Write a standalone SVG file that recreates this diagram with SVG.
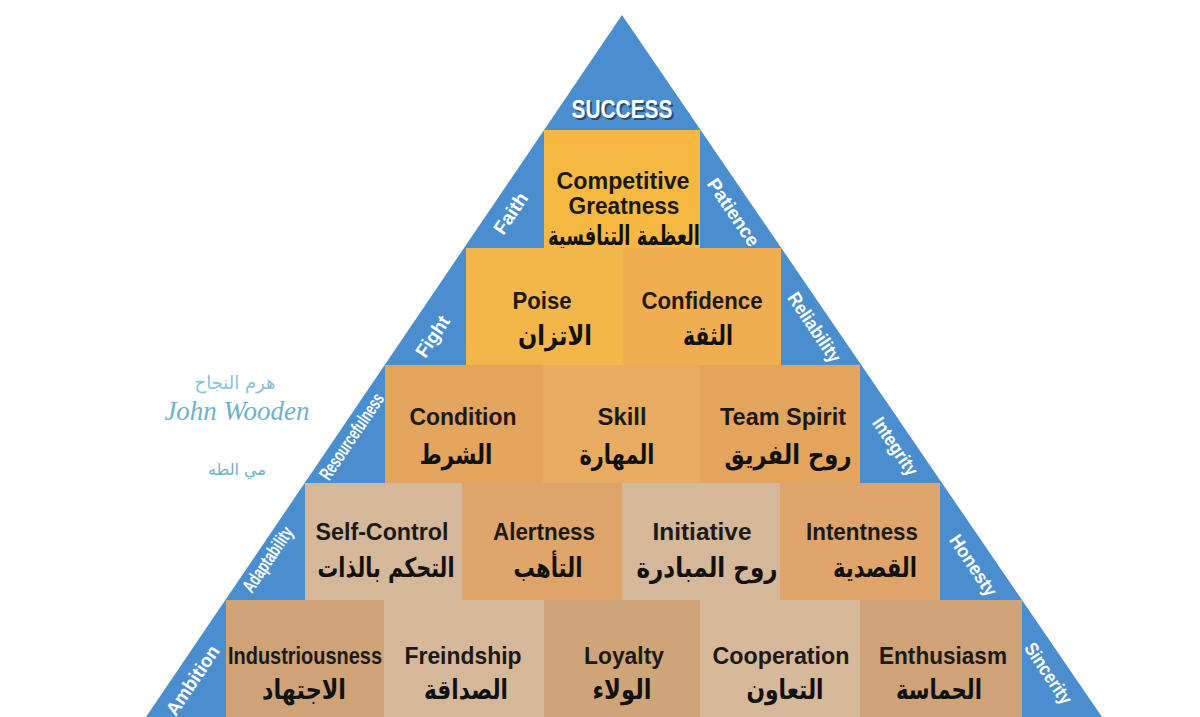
<svg xmlns="http://www.w3.org/2000/svg" width="1200" height="717" viewBox="0 0 1200 717">
<style>
.en{font-family:"Liberation Sans",sans-serif;font-weight:bold;font-size:24px;fill:#1c1a17;text-anchor:middle}
.ar{font-family:"DejaVu Sans",sans-serif;font-weight:bold;font-size:27px;fill:#111;text-anchor:middle}
.side{font-family:"Liberation Sans",sans-serif;font-weight:bold;font-size:19px;fill:#fff;text-anchor:middle}
</style>
<rect width="1200" height="717" fill="#fff"/>
<polygon points="622,15 1102,717 146,717" fill="#4A8ECF"/>
<g id="success">
<text x="624" y="120" text-anchor="middle" font-family="Liberation Sans,sans-serif" font-weight="bold" font-size="25" fill="#2a4a70" textLength="101" lengthAdjust="spacingAndGlyphs">SUCCESS</text>
<text x="622" y="118" text-anchor="middle" font-family="Liberation Sans,sans-serif" font-weight="bold" font-size="25" fill="#fff" textLength="101" lengthAdjust="spacingAndGlyphs">SUCCESS</text>
</g>
<g id="competitive"><rect x="544" y="130" width="156" height="118" fill="#F5B942"/>
<text class="en" x="623" y="189" font-size="22" textLength="133" lengthAdjust="spacingAndGlyphs">Competitive</text><text class="en" x="624" y="214" font-size="22" textLength="111" lengthAdjust="spacingAndGlyphs">Greatness</text>
<text class="ar" x="624" y="245" font-size="22" textLength="152" lengthAdjust="spacingAndGlyphs">العظمة التنافسية</text></g>
<g id="poise"><rect x="466" y="248" width="156" height="117" fill="#F2B64B"/>
<text class="en" x="542" y="309" textLength="59" lengthAdjust="spacingAndGlyphs">Poise</text><text class="ar" x="555" y="345" font-size="28" textLength="74" lengthAdjust="spacingAndGlyphs">الاتزان</text></g>
<g id="confidence"><rect x="622" y="248" width="159" height="117" fill="#F0AE50"/>
<text class="en" x="702" y="309" textLength="121" lengthAdjust="spacingAndGlyphs">Confidence</text><text class="ar" x="708" y="345" font-size="28" textLength="50" lengthAdjust="spacingAndGlyphs">الثقة</text></g>
<g id="condition"><rect x="385" y="365" width="158" height="118" fill="#E3A45E"/>
<text class="en" x="463" y="425" textLength="107" lengthAdjust="spacingAndGlyphs">Condition</text><text class="ar" x="456" y="464" font-size="28" textLength="73" lengthAdjust="spacingAndGlyphs">الشرط</text></g>
<g id="skill"><rect x="543" y="365" width="157" height="118" fill="#E7AC62"/>
<text class="en" x="622" y="425" textLength="49" lengthAdjust="spacingAndGlyphs">Skill</text><text class="ar" x="617" y="464" font-size="28" textLength="75" lengthAdjust="spacingAndGlyphs">المهارة</text></g>
<g id="teamspirit"><rect x="700" y="365" width="160" height="118" fill="#E3A55E"/>
<text class="en" x="783" y="425" textLength="126" lengthAdjust="spacingAndGlyphs">Team Spirit</text><text class="ar" x="788" y="464" font-size="28" textLength="127" lengthAdjust="spacingAndGlyphs">روح الفريق</text></g>
<g id="selfcontrol"><rect x="305" y="483" width="157" height="117" fill="#D5B89A"/>
<text class="en" x="382" y="540" textLength="133" lengthAdjust="spacingAndGlyphs">Self-Control</text><text class="ar" x="386" y="577" textLength="137" lengthAdjust="spacingAndGlyphs">التحكم بالذات</text></g>
<g id="alertness"><rect x="462" y="483" width="160" height="117" fill="#DFA46A"/>
<text class="en" x="544" y="540" textLength="102" lengthAdjust="spacingAndGlyphs">Alertness</text><text class="ar" x="548" y="577" textLength="69" lengthAdjust="spacingAndGlyphs">التأهب</text></g>
<g id="initiative"><rect x="622" y="483" width="158" height="117" fill="#D5B89A"/>
<text class="en" x="702" y="540" textLength="99" lengthAdjust="spacingAndGlyphs">Initiative</text><text class="ar" x="707" y="577" textLength="141" lengthAdjust="spacingAndGlyphs">روح المبادرة</text></g>
<g id="intentness"><rect x="780" y="483" width="160" height="117" fill="#DFA46A"/>
<text class="en" x="862" y="540" textLength="112" lengthAdjust="spacingAndGlyphs">Intentness</text><text class="ar" x="875" y="577" textLength="84" lengthAdjust="spacingAndGlyphs">القصدية</text></g>
<g id="industriousness"><rect x="226" y="600" width="158" height="117" fill="#D0A278"/>
<text class="en" x="305" y="664" textLength="154" lengthAdjust="spacingAndGlyphs">Industriousness</text><text class="ar" x="304" y="699" textLength="84" lengthAdjust="spacingAndGlyphs">الاجتهاد</text></g>
<g id="freindship"><rect x="384" y="600" width="160" height="117" fill="#D5B89A"/>
<text class="en" x="463" y="664" textLength="117" lengthAdjust="spacingAndGlyphs">Freindship</text><text class="ar" x="466" y="699" textLength="84" lengthAdjust="spacingAndGlyphs">الصداقة</text></g>
<g id="loyalty"><rect x="544" y="600" width="156" height="117" fill="#CFA478"/>
<text class="en" x="624" y="664" textLength="80" lengthAdjust="spacingAndGlyphs">Loyalty</text><text class="ar" x="622" y="699" textLength="59" lengthAdjust="spacingAndGlyphs">الولاء</text></g>
<g id="cooperation"><rect x="700" y="600" width="160" height="117" fill="#D6B99A"/>
<text class="en" x="781" y="664" textLength="137" lengthAdjust="spacingAndGlyphs">Cooperation</text><text class="ar" x="785" y="699" textLength="77" lengthAdjust="spacingAndGlyphs">التعاون</text></g>
<g id="enthusiasm"><rect x="860" y="600" width="162" height="117" fill="#D0A278"/>
<text class="en" x="943" y="664" textLength="128" lengthAdjust="spacingAndGlyphs">Enthusiasm</text><text class="ar" x="939" y="699" textLength="86" lengthAdjust="spacingAndGlyphs">الحماسة</text></g>
<g id="sides">
<text class="side" transform="translate(516,217) rotate(-56)" textLength="46" lengthAdjust="spacingAndGlyphs">Faith</text>
<text class="side" transform="translate(438,340) rotate(-56)" textLength="46" lengthAdjust="spacingAndGlyphs">Fight</text>
<text class="side" font-size="15" transform="translate(357,440) rotate(-56)" textLength="100" lengthAdjust="spacingAndGlyphs">Resourcefulness</text>
<text class="side" font-size="15" transform="translate(273,563) rotate(-56)" textLength="75" lengthAdjust="spacingAndGlyphs">Adaptability</text>
<text class="side" transform="translate(198,684) rotate(-56)" textLength="80" lengthAdjust="spacingAndGlyphs">Ambition</text>
<text class="side" transform="translate(728,216) rotate(56)" textLength="78" lengthAdjust="spacingAndGlyphs">Patience</text>
<text class="side" font-size="16" transform="translate(809,331) rotate(56)" textLength="80" lengthAdjust="spacingAndGlyphs">Reliability</text>
<text class="side" font-size="17" transform="translate(890,450) rotate(56)" textLength="66" lengthAdjust="spacingAndGlyphs">Integrity</text>
<text class="side" font-size="18" transform="translate(968,569) rotate(56)" textLength="70" lengthAdjust="spacingAndGlyphs">Honesty</text>
<text class="side" font-size="18" transform="translate(1043,677) rotate(56)" textLength="70" lengthAdjust="spacingAndGlyphs">Sincerity</text>
</g>
<g id="credit">
<text x="235" y="389" text-anchor="middle" font-family="DejaVu Sans,sans-serif" font-size="18" fill="#86C2D8">هرم النجاح</text>
<text x="237" y="420" text-anchor="middle" font-family="Liberation Serif,serif" font-style="italic" font-size="27" fill="#6DB2C8">John Wooden</text>
<text x="237" y="475" text-anchor="middle" font-family="DejaVu Sans,sans-serif" font-size="16" fill="#6DB2C8">مي الطه</text>
</g>
</svg>
